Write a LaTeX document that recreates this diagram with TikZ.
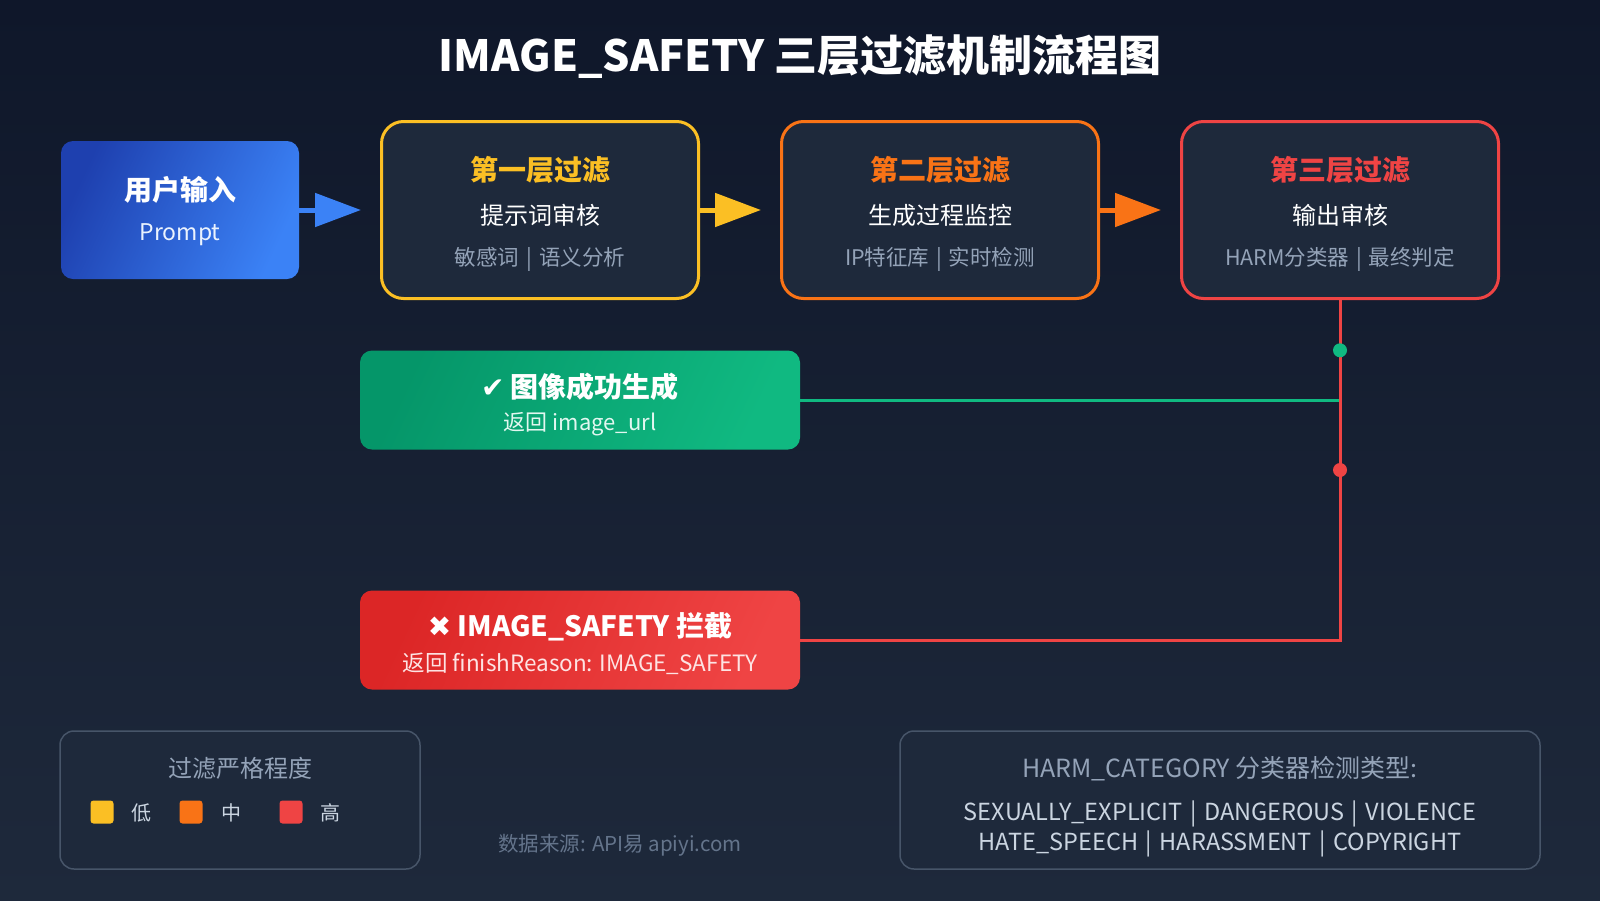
\documentclass[tikz,border=0pt]{standalone}
\usepackage{fontspec}
\setmainfont{Noto Sans CJK SC}
\newfontfamily\symf{DejaVu Sans}
\usetikzlibrary{arrows.meta}
\definecolor{bgtop}{HTML}{0F172A}
\definecolor{bgbot}{HTML}{1E293B}
\definecolor{boxfill}{HTML}{1E293B}
\definecolor{cyellow}{HTML}{FBBF24}
\definecolor{corange}{HTML}{F97316}
\definecolor{cred}{HTML}{EF4444}
\definecolor{cdred}{HTML}{DC2626}
\definecolor{cgreen}{HTML}{10B981}
\definecolor{cdgreen}{HTML}{059669}
\definecolor{cblue}{HTML}{3B82F6}
\definecolor{cdblue}{HTML}{1E40AF}
\definecolor{cgray}{HTML}{94A3B8}
\definecolor{clight}{HTML}{CBD5E1}
\definecolor{cborder}{HTML}{475569}
\definecolor{cfoot}{HTML}{64748B}
\newcommand{\fsz}[1]{\fontsize{#1}{#1}\selectfont}
\newcommand{\sepbar}{\hspace{0.32em}|\hspace{0.32em}}
\begin{document}
\begin{tikzpicture}[x=1pt,y=-1pt,
  stagebox/.style={rectangle, rounded corners=22pt, fill=boxfill, line width=3pt, minimum width=317pt, minimum height=177pt, inner sep=0pt},
  panelbox/.style={rectangle, rounded corners=14pt, fill=boxfill, draw=cborder, line width=1.5pt, minimum height=138pt, inner sep=0pt},
  resultbox/.style={rectangle, rounded corners=12pt, minimum width=440pt, minimum height=99pt, inner sep=0pt},
  flowarrow/.style={line width=5pt, shorten >=19pt, -{Triangle[length=46pt,width=33pt]}},
  conn/.style={line width=3pt},
  ttl/.style={font=\bfseries\fsz{28}},
  sub/.style={font=\fsz{24}, text=white},
  det/.style={font=\fsz{21.5}, text=cgray},
  swatch/.style={rectangle, rounded corners=3pt, minimum width=23pt, minimum height=23pt, inner sep=0pt},
  lbl/.style={font=\fsz{20}, text=clight, inner sep=0pt}
]
\useasboundingbox (0,0) rectangle (1600,900);
\fill[top color=bgtop, bottom color=bgbot] (0,0) rectangle (1600,900);

% title
\node[font=\bfseries\fsz{43}, text=white] (title) at (800,57) {IMAGE\_SAFETY 三层过滤机制流程图};

% user input
\node[rectangle, rounded corners=12pt, left color=cdblue, right color=cblue, shading angle=65,
      minimum width=238pt, minimum height=138pt, inner sep=0pt] (user) at (180,210) {};
\node[ttl, text=white] (usert) at (180,190) {用户输入};
\node[font=\fsz{23}, text=white!90!cblue] (users) at (180,235) {Prompt};

% stages
\node[stagebox, draw=cyellow] (b1) at (540,210) {};
\node[ttl, text=cyellow] (b1t) at (540,170) {第一层过滤};
\node[sub] (b1s) at (540,215) {提示词审核};
\node[det] (b1d) at (540,259) {敏感词\sepbar 语义分析};

\node[stagebox, draw=corange] (b2) at (940,210) {};
\node[ttl, text=corange] (b2t) at (940,170) {第二层过滤};
\node[sub] (b2s) at (940,215) {生成过程监控};
\node[det] (b2d) at (940,259) {IP特征库\sepbar 实时检测};

\node[stagebox, draw=cred] (b3) at (1340,210) {};
\node[ttl, text=cred] (b3t) at (1340,170) {第三层过滤};
\node[sub] (b3s) at (1340,215) {输出审核};
\node[det] (b3d) at (1340,259) {HARM分类器\sepbar 最终判定};

% flow arrows
\draw[flowarrow, cblue] (user.east) -- (b1.west);
\draw[flowarrow, cyellow] (b1.east) -- (b2.west);
\draw[flowarrow, corange] (b2.east) -- (b3.west);

% results
\node[resultbox, left color=cdgreen, right color=cgreen, shading angle=65] (ok) at (580,400) {};
\node[ttl, text=white] (okt) at (580,387) {{\symf\bfseries ✔} 图像成功生成};
\node[font=\fsz{22}, text=white!88!cgreen] (oks) at (580,424) {返回 image\_url};

\node[resultbox, left color=cdred, right color=cred, shading angle=65] (bad) at (580,640) {};
\node[ttl, text=white] (badt) at (580,627) {{\symf\bfseries ✖} IMAGE\_SAFETY 拦截};
\node[font=\fsz{22.5}, text=white!85!cred] (bads) at (580,664) {返回 finishReason: IMAGE\_SAFETY};

% connectors
\coordinate (gdot) at (b3.south |- ok.north);
\coordinate (rdot) at (1340,470);
\draw[conn, cgreen] (ok.east) -- (ok.east -| b3.south);
\draw[conn, cred] (b3.south) |- (bad.east);
\fill[cgreen] (gdot) circle (7pt);
\fill[cred] (rdot) circle (7pt);

% legend
\node[panelbox, minimum width=360pt] (legend) at (240,800) {};
\node[font=\fsz{24}, text=cgray] (legt) at (240,768) {过滤严格程度};
\node[swatch, fill=cyellow] (sw1) at (102,812) {};
\node[lbl] (sw1l) at (141,813) {低};
\node[swatch, fill=corange] (sw2) at (191,812) {};
\node[lbl] (sw2l) at (231,813) {中};
\node[swatch, fill=cred] (sw3) at (291,812) {};
\node[lbl] (sw3l) at (330,813) {高};

% footer
\node[font=\fsz{20.5}, text=cfoot] (foot) at (620,845) {数据来源: API易 apiyi.com};

% harm categories
\node[panelbox, minimum width=640pt] (harm) at (1220,800) {};
\node[font=\fsz{25}, text=cgray] (harmt) at (1220,769) {HARM\_CATEGORY 分类器检测类型:};
\node[font=\fsz{23.5}, text=clight] (harm1) at (1220,814) {SEXUALLY\_EXPLICIT\sepbar DANGEROUS\sepbar VIOLENCE};
\node[font=\fsz{23.5}, text=clight] (harm2) at (1220,844) {HATE\_SPEECH\sepbar HARASSMENT\sepbar COPYRIGHT};
\end{tikzpicture}
\end{document}
